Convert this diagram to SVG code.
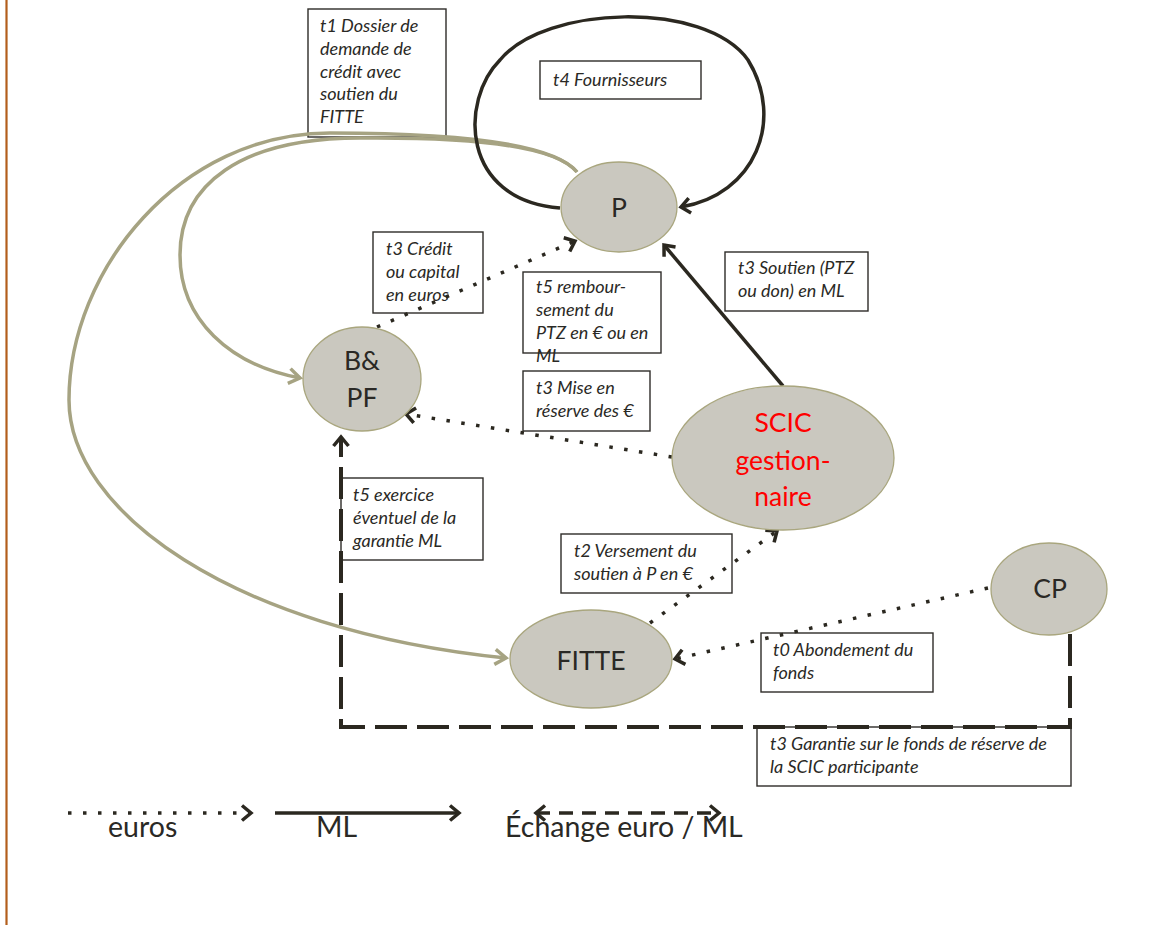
<svg xmlns="http://www.w3.org/2000/svg" width="1176" height="925" viewBox="0 0 1176 925">
<style>
.node{fill:#cac8bf;stroke:#a9a67e;stroke-width:1.3}
.nt{font-family:Lato,"Open Sans",sans-serif;font-size:26.5px;fill:#2a2925;text-anchor:middle}
.red{fill:#ff0000}
.box{fill:#fff;stroke:#2e2c28;stroke-width:1.4}
.lb{font-family:Lato,"Open Sans",sans-serif;font-style:italic;font-size:18px;fill:#2a2925}
.dot{fill:none;stroke:#2b2820;stroke-width:3.5;stroke-dasharray:3.5 11.5}
.sol{fill:none;stroke:#2b2820;stroke-width:3.5}
.dash{fill:none;stroke:#2b2820;stroke-width:4;stroke-dasharray:32 10}
.grn{fill:none;stroke:#a6a382;stroke-width:3.5}
.lg{font-family:Lato,"Open Sans",sans-serif;font-size:28.5px;fill:#2a2925}
</style>
<defs>
<marker id="ak" viewBox="-14 -11 18 22" markerWidth="18" markerHeight="22" refX="0" refY="0" orient="auto-start-reverse" markerUnits="userSpaceOnUse">
<path d="M-9,-7.5 L0,0 L-9,7.5" fill="none" stroke="#2b2820" stroke-width="3.5"/>
</marker>
<marker id="ag" viewBox="-16 -11 20 22" markerWidth="20" markerHeight="22" refX="0" refY="0" orient="auto" markerUnits="userSpaceOnUse">
<path d="M-11,-7.5 L0,0 L-11,7.5" fill="none" stroke="#a6a382" stroke-width="3.5"/>
</marker>
</defs>
<rect width="1176" height="925" fill="#fff"/>
<line x1="6.5" y1="0" x2="6.5" y2="925" stroke="#b35e1c" stroke-width="2.2"/>

<g id="label-t1"><rect class="box" x="308" y="9" width="138" height="128"/>
<text class="lb" x="320" y="32">t1 Dossier de</text><text class="lb" x="320" y="55">demande de</text><text class="lb" x="320" y="78">crédit avec</text><text class="lb" x="320" y="100">soutien du</text><text class="lb" x="320" y="123">FITTE</text></g>
<g id="label-t4"><rect class="box" x="540" y="61" width="161" height="38"/><text class="lb" x="553" y="86">t4 Fournisseurs</text></g>
<g id="label-t3-credit"><rect class="box" x="373" y="232" width="110" height="81"/>
<text class="lb" x="386" y="255">t3 Crédit</text><text class="lb" x="386" y="278">ou capital</text><text class="lb" x="386" y="301">en euros</text></g>
<g id="label-t5-remb"><rect class="box" x="523" y="272" width="138" height="81"/>
<text class="lb" x="536" y="293">t5 rembour-</text><text class="lb" x="536" y="316">sement du</text><text class="lb" x="536" y="339">PTZ en € ou en</text><text class="lb" x="536" y="362">ML</text></g>
<g id="label-t3-mise"><rect class="box" x="523" y="371" width="127" height="60"/>
<text class="lb" x="536" y="394">t3 Mise en</text><text class="lb" x="536" y="417">réserve des €</text></g>
<g id="label-t3-soutien"><rect class="box" x="725" y="252" width="143" height="59"/>
<text class="lb" x="738" y="274">t3 Soutien (PTZ</text><text class="lb" x="738" y="297">ou don) en ML</text></g>
<g id="label-t5-exercice"><rect class="box" x="341" y="478" width="142" height="82"/>
<text class="lb" x="353" y="501">t5 exercice</text><text class="lb" x="353" y="524">éventuel de la</text><text class="lb" x="353" y="547">garantie ML</text></g>
<g id="label-t2"><rect class="box" x="561" y="534" width="171" height="59"/>
<text class="lb" x="574" y="557">t2 Versement du</text><text class="lb" x="574" y="580">soutien à P en €</text></g>
<g id="label-t0"><rect class="box" x="761" y="633" width="172" height="59"/>
<text class="lb" x="773" y="656">t0 Abondement du</text><text class="lb" x="773" y="679">fonds</text></g>
<g id="label-t3-garantie"><rect class="box" x="757" y="727" width="314" height="59"/>
<text class="lb" x="770" y="750">t3 Garantie sur le fonds de réserve de</text><text class="lb" x="770" y="773">la SCIC participante</text></g>

<g id="connectors">
<path class="grn" d="M577,172 C555,145 470,133 330,133 C180,133 69,270 69,400 C69,510 230,630 506,658" marker-end="url(#ag)"/>
<path class="grn" d="M577,172 C555,145 470,137 360,138 C240,138 180,185 180,255 C180,320 230,365 300,378" marker-end="url(#ag)"/>
<path class="sol" d="M560,208 C460,200 460,100 500,60 C545,5 705,0 748,60 C785,120 755,195 681,207" marker-end="url(#ak)"/>
<path class="sol" d="M783,386 L664,245" marker-end="url(#ak)"/>
<path class="dot" d="M377,327 L575,241" marker-end="url(#ak)"/>
<path class="dot" d="M672,457 L406,414" marker-end="url(#ak)"/>
<path class="dot" d="M650,623 L777,531" marker-end="url(#ak)"/>
<path class="dot" d="M988,588 L675,659" marker-end="url(#ak)"/>
<path class="dash" d="M1070,634 L1070,727 L341,727 L341,437" marker-end="url(#ak)"/>
</g>

<g id="node-P"><ellipse class="node" cx="619" cy="207" rx="58" ry="45"/><text class="nt" x="619" y="217">P</text></g>
<g id="node-BPF"><ellipse class="node" cx="362" cy="379" rx="59" ry="52"/><text class="nt" x="362" y="370">B&amp;</text><text class="nt" x="362" y="407">PF</text></g>
<g id="node-SCIC"><ellipse class="node" cx="783" cy="458" rx="111" ry="72"/><text class="nt red" x="783" y="432">SCIC</text><text class="nt red" x="783" y="470">gestion-</text><text class="nt red" x="783" y="506">naire</text></g>
<g id="node-FITTE"><ellipse class="node" cx="591" cy="659" rx="81" ry="49"/><text class="nt" x="591" y="670">FITTE</text></g>
<g id="node-CP"><ellipse class="node" cx="1049" cy="589" rx="58" ry="46"/><text class="nt" x="1050" y="598">CP</text></g>

<g id="legend">
<path class="dot" d="M68,813 L251,813" marker-end="url(#ak)"/>
<path class="sol" d="M275,813 L459,813" marker-end="url(#ak)"/>
<path d="M536,813 L719,813" fill="none" stroke="#2b2820" stroke-width="3.5" stroke-dasharray="14 9" marker-start="url(#ak)" marker-end="url(#ak)"/>
<text class="lg" x="108" y="837">euros</text>
<text class="lg" x="316" y="837">ML</text>
<text class="lg" x="505" y="837">Échange euro / ML</text>
</g>
</svg>
